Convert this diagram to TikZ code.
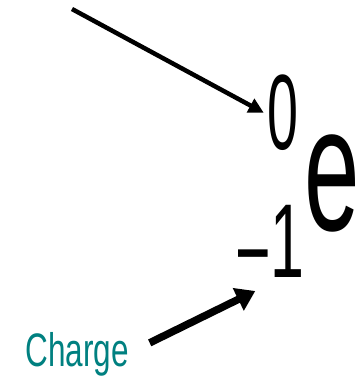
\documentclass[tikz,border=0pt]{standalone}
\usepackage{fontspec}
\setmainfont{Liberation Sans}
\usetikzlibrary{arrows.meta, positioning}

\definecolor{chargeteal}{RGB}{0,128,128}

\begin{document}
\begin{tikzpicture}[
    x=1pt, y=-1pt,
    sym/.style={inner sep=0pt, outer sep=0pt, anchor=base west},
    arrow/.style={-{Triangle[length=15pt, width=15pt]}, line width=4.5pt, black},
    thickarrow/.style={-{Triangle[length=19pt, width=24pt]}, line width=7.5pt, black}
]
    \useasboundingbox (0,0) rectangle (356,384);
    \node[sym] (zero) at (267.7,149.5) {\fontsize{107}{107}\selectfont\scalebox{0.52}[1]{0}};
    \node[sym] (elec) at (305,230) {\fontsize{178}{178}\selectfont\scalebox{0.56}[1]{e}};
    \node[sym] (one) at (235.3,277) {\fontsize{105}{105}\selectfont\scalebox{0.58}[1]{\raisebox{-11pt}{\char"2212}1}};
    \node[sym, text=chargeteal] (charge) at (25.4,366) {\fontsize{47}{47}\selectfont\scalebox{0.67}[1]{Charge}};

    \coordinate (topstart) at (72,9);
    \draw[arrow] (topstart) -- ([xshift=-4pt]zero.west);
    \draw[thickarrow] ([xshift=21pt, yshift=11pt]charge.east) -- ([xshift=20pt, yshift=-3pt]one.south west);
\end{tikzpicture}
\end{document}
